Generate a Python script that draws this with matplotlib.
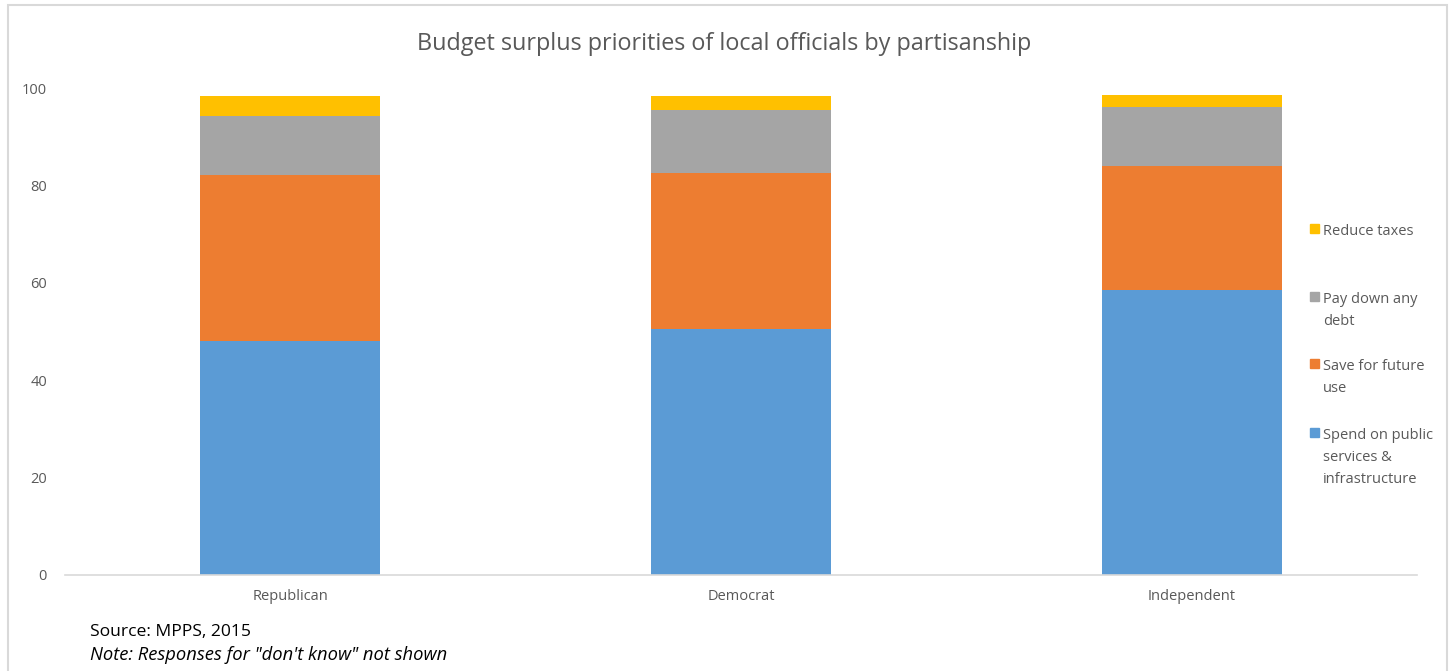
import numpy as np
import matplotlib.pyplot as plt
from matplotlib.patches import Rectangle

parties = ["Republican", "Democrat", "Independent"]
series = ["Spend on public\nservices &\ninfrastructure", "Save for future\nuse", "Pay down any\ndebt", "Reduce taxes"]
spend = [48.0, 50.5, 58.5]
save = [34.2, 32.0, 25.5]
debt = [12.0, 13.0, 12.1]
taxes = [4.2, 2.9, 2.4]
colors = ["#5B9BD5", "#ED7D31", "#A5A5A5", "#FFC000"]

plt.rcParams['font.family'] = ['Open Sans', 'DejaVu Sans']
txt = "#595959"

fig = plt.figure(figsize=(14.55, 6.71), dpi=100)
ax = fig.add_axes([65/1455, 1-575/671, (1417-65)/1455, (575-88)/671])

x = np.arange(len(parties))
bottom = np.zeros(len(parties))
for vals, col in zip([spend, save, debt, taxes], colors):
    ax.bar(x, vals, width=0.4, bottom=bottom, color=col)
    bottom += np.array(vals)

ax.set_xlim(-0.5, 2.5)
ax.set_ylim(0, 100)
ax.set_yticks(range(0, 101, 20))
ax.set_xticks(x)
ax.set_xticklabels(parties)
ax.tick_params(length=0, colors=txt, labelsize=10.5)
ax.tick_params(axis='x', pad=10)
ax.tick_params(axis='y', pad=13)
for s in ["top", "right", "left"]:
    ax.spines[s].set_visible(False)
ax.spines["bottom"].set_color("#D9D9D9")
ax.spines["bottom"].set_linewidth(1.2)

fig.text(724/1455, 1-44/671, "Budget surplus priorities of local officials by partisanship",
         ha='center', va='center', fontsize=16.8, color=txt)

# legend, top entry first
tops = [229, 297, 364, 433]
for top, lab, col in zip(tops, series[::-1], colors[::-1]):
    fig.patches.append(Rectangle((1310/1455, 1-(top+4)/671), 9/1455, 9/671,
                                 transform=fig.transFigure, color=col))
    fig.text(1323/1455, 1-(top-5)/671, lab, ha='left', va='top',
             fontsize=10.5, color=txt, linespacing=1.62)

fig.text(90/1455, 1-632/671, "Source: MPPS, 2015", ha='left', va='center', fontsize=12.6, color='black')
fig.text(90/1455, 1-655/671, "Note: Responses for \"don't know\" not shown", ha='left', va='center',
         fontsize=13.2, color='black', style='italic')

# chart frame
fig.patches.append(Rectangle((8/1455, -0.01), (1447-8)/1455, 1-5/671+0.01,
                             transform=fig.transFigure, fill=False, edgecolor="#D9D9D9", lw=1.5))

fig.savefig("out.png", dpi=100)
